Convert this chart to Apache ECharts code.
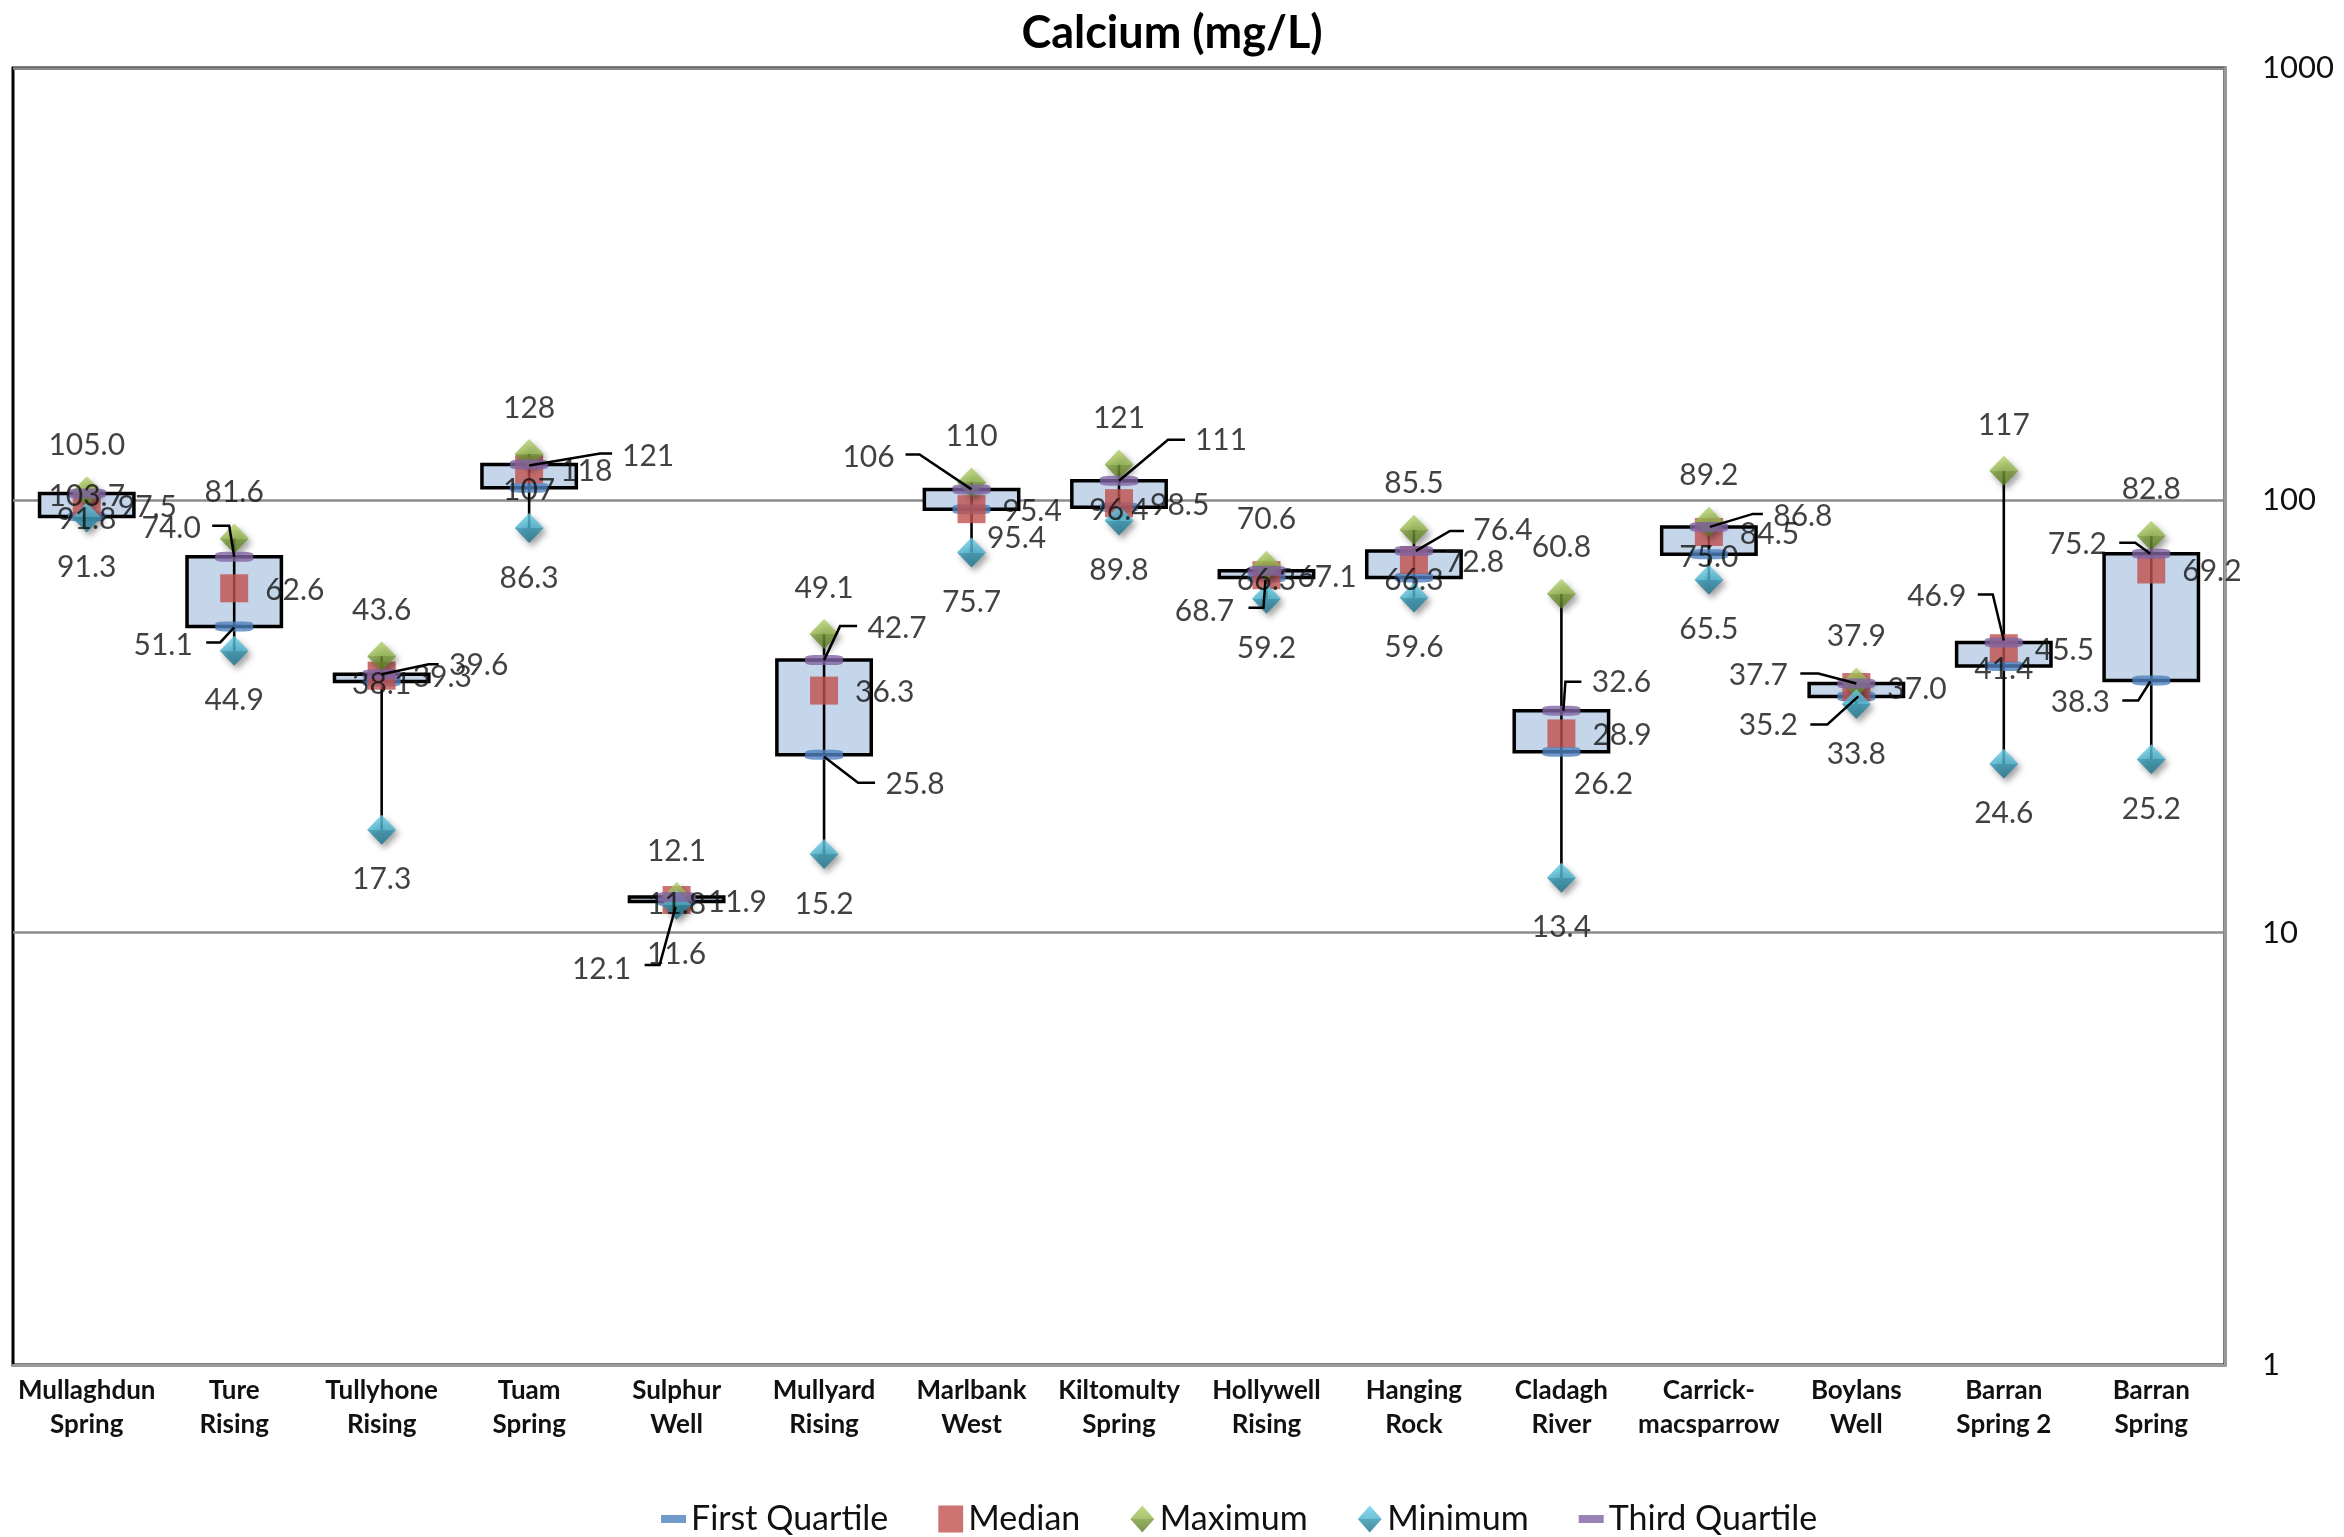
<!DOCTYPE html>
<html>
<head>
<meta charset="utf-8">
<title>Calcium (mg/L)</title>
<script src="https://cdn.jsdelivr.net/npm/echarts@6/dist/echarts.min.js"></script>
<style>
  html, body { margin: 0; padding: 0; background: #fff; }
  #chart { width: 2344px; height: 1537px; }
</style>
</head>
<body>
<div id="chart"></div>
<script>
// Sampling sites
const categories = [
  'Mullaghdun Spring', 'Ture Rising', 'Tullyhone Rising', 'Tuam Spring', 'Sulphur Well',
  'Mullyard Rising', 'Marlbank West', 'Kiltomulty Spring', 'Hollywell Rising', 'Hanging Rock',
  'Cladagh River', 'Carrick-macsparrow', 'Boylans Well', 'Barran Spring 2', 'Barran Spring'
];

// Calcium statistics, mg/L
const firstQuartile = [91.8, 51.1, 38.1, 107, 11.8, 25.8, 95.4, 96.4, 66.3, 66.3, 26.2, 75.0, 35.2, 41.4, 38.3];
const median        = [97.5, 62.6, 39.3, 118, 11.9, 36.3, 95.4, 98.5, 67.1, 72.8, 28.9, 84.5, 37.0, 45.5, 69.2];
const maximum       = [105.0, 81.6, 43.6, 128, 12.1, 49.1, 110, 121, 70.6, 85.5, 60.8, 89.2, 37.9, 117, 82.8];
const minimum       = [91.3, 44.9, 17.3, 86.3, 11.6, 15.2, 75.7, 89.8, 59.2, 59.6, 13.4, 65.5, 33.8, 24.6, 25.2];
const thirdQuartile = [103.7, 74.0, 39.6, 121, 12.1, 42.7, 106, 111, 68.7, 76.4, 32.6, 86.8, 37.7, 46.9, 75.2];

// Y axis tick labels (log scale)
const yTicks = [1, 10, 100, 1000];

// Sites whose labels keep one decimal place
const oneDecimalSites = ['Mullaghdun Spring'];

const seriesValues = { q1: firstQuartile, med: median, max: maximum, min: minimum, q3: thirdQuartile };

// Labels dragged away from their marker: [dx, dy] of the label centre
const labelMoves = {
  q3: { 1: [-63, -29], 2: [97, -9], 3: [119, -8], 4: [-75, 72], 5: [73, -32], 6: [-103, -32],
        7: [102, -40], 8: [-62, 41], 9: [89, -21], 10: [60, -28], 11: [94, -11], 12: [-98, -8],
        13: [-67, -46], 14: [-74, -10] },
  q1: { 1: [-71, 19], 5: [91, 30], 6: [45, 29], 10: [42, 33], 12: [-88, 29], 14: [-71, 22] }
};

// Leader lines for the dragged labels, as offsets from the marker
const leaders = [
  ['q3', 1, [[-22, -31], [-5, -31], [0, 0]]],
  ['q1', 1, [[-28, 16], [-14, 16], [0, 1]]],
  ['q3', 2, [[0, 0], [47, -10], [57, -10]]],
  ['q3', 3, [[0, 1], [71, -11], [83, -11]]],
  ['q3', 4, [[-32, 68], [-17, 68], [-1, 10]]],
  ['q3', 5, [[0, 0], [16, -34], [33, -34]]],
  ['q1', 5, [[0, 2], [34, 28], [51, 28]]],
  ['q3', 6, [[-66, -35], [-52, -35], [0, 0]]],
  ['q3', 7, [[0, 0], [49, -41], [66, -41]]],
  ['q3', 8, [[-18, 37], [-3, 37], [-1, 9]]],
  ['q3', 9, [[2, 0], [36, -20], [50, -20]]],
  ['q3', 10, [[2, 0], [4, -29], [20, -29]]],
  ['q3', 11, [[1, 0], [44, -13], [54, -13]]],
  ['q3', 12, [[-56, -10], [-38, -10], [0, 0]]],
  ['q1', 12, [[-46, 28], [-29, 28], [2, 0]]],
  ['q3', 13, [[-26, -48], [-11, -48], [0, -2]]],
  ['q3', 14, [[-32, -11], [-16, -11], [-1, 0]]],
  ['q1', 14, [[-29, 20], [-13, 20], [-1, 1]]]
];

const FONT = 'Lato, "Open Sans", "DejaVu Sans", sans-serif';
const TEXT = '#111';

function fmt(cat, v) {
  return oneDecimalSites.includes(categories[cat]) ? v.toFixed(1) : v.toPrecision(3);
}

function wrapName(name) {
  const h = name.indexOf('-');
  if (h >= 0) return name.slice(0, h + 1) + '\n' + name.slice(h + 1);
  const s = name.indexOf(' ');
  return s >= 0 ? name.slice(0, s) + '\n' + name.slice(s + 1) : name;
}

function facetGradient(light, light2, dark, darker) {
  return new echarts.graphic.LinearGradient(0, 0, 0, 1, [
    { offset: 0, color: light }, { offset: 0.5, color: light2 },
    { offset: 0.5, color: dark }, { offset: 1, color: darker }
  ]);
}

function statSeries(name, key, symbol, size, itemStyle, labelPos, z) {
  const values = seriesValues[key];
  const moves = labelMoves[key] || {};
  return {
    name: name,
    type: 'scatter',
    z: z,
    symbol: symbol,
    symbolSize: size,
    itemStyle: itemStyle,
    label: Object.assign({
      show: true,
      position: 'inside',
      fontFamily: FONT,
      fontSize: 30,
      color: TEXT,
      formatter: p => fmt(p.value[0], p.value[1])
    }, labelPos),
    data: values.map((v, i) => {
      const item = { value: [i, v] };
      if (moves[i]) item.label = { offset: moves[i], align: 'center' };
      return item;
    })
  };
}

const chart = echarts.init(document.getElementById('chart'), null, { renderer: 'canvas' });

const diamondShadow = { shadowBlur: 6, shadowColor: 'rgba(0,0,0,0.45)', shadowOffsetX: 3, shadowOffsetY: 4 };

chart.setOption({
  animation: false,
  backgroundColor: '#fff',
  title: {
    text: 'Calcium (mg/L)',
    left: 'center',
    top: 6,
    textStyle: { fontFamily: FONT, fontWeight: 'bold', fontSize: 45, color: '#000' }
  },
  legend: {
    left: 656,
    top: 1497,
    itemWidth: 25,
    itemHeight: 27,
    itemGap: 50,
    symbolKeepAspect: true,
    textStyle: { fontFamily: FONT, fontSize: 34, color: TEXT },
    data: [
      { name: 'First Quartile', icon: 'path://M0,0H25V8H0Z' },
      { name: 'Median', icon: 'path://M0,0H23V25H0Z' },
      { name: 'Maximum', icon: 'path://M12,0L24,13.5L12,27L0,13.5Z' },
      { name: 'Minimum', icon: 'path://M12,0L24,13.5L12,27L0,13.5Z' },
      { name: 'Third Quartile', icon: 'path://M0,0H25V8H0Z' }
    ]
  },
  grid: {
    left: 13, right: 119, top: 68, bottom: 172,
    show: true, borderColor: '#000', borderWidth: 3,
    outerBoundsMode: 'none'
  },
  xAxis: {
    type: 'category',
    data: categories,
    axisLine: { show: true, lineStyle: { color: '#9a9a9a', width: 3 } },
    axisTick: { show: false },
    splitLine: { show: false },
    axisLabel: {
      interval: 0,
      margin: 9,
      fontFamily: FONT,
      fontWeight: 'bold',
      fontSize: 26,
      lineHeight: 34,
      color: TEXT,
      formatter: wrapName
    }
  },
  yAxis: {
    type: 'log',
    logBase: 10,
    min: yTicks[0],
    max: yTicks[yTicks.length - 1],
    position: 'right',
    axisLine: { show: true, lineStyle: { color: '#9a9a9a', width: 3 } },
    axisTick: { show: false },
    splitLine: { show: true, lineStyle: { color: '#8c8c8c', width: 2.5 } },
    axisLabel: {
      margin: 37,
      fontFamily: FONT,
      fontSize: 31,
      color: TEXT,
      formatter: v => String(Math.round(v))
    }
  },
  series: [
    {
      name: 'box',
      type: 'custom',
      z: 1,
      silent: true,
      encode: { x: 0, y: [1, 2, 3, 4] },
      data: categories.map((c, i) => [i, firstQuartile[i], thirdQuartile[i], minimum[i], maximum[i]]),
      renderItem: (params, api) => {
        const cat = api.value(0);
        const pQ1 = api.coord([cat, api.value(1)]);
        const pQ3 = api.coord([cat, api.value(2)]);
        const pMin = api.coord([cat, api.value(3)]);
        const pMax = api.coord([cat, api.value(4)]);
        const band = api.coord([1, api.value(1)])[0] - api.coord([0, api.value(1)])[0];
        const w = band * 0.64;
        return {
          type: 'group',
          children: [
            {
              type: 'rect',
              shape: { x: pQ1[0] - w / 2, y: pQ3[1], width: w, height: pQ1[1] - pQ3[1] },
              style: { fill: '#c5d5ea', stroke: '#000', lineWidth: 3.5 }
            },
            {
              type: 'line',
              shape: { x1: pMax[0], y1: pMax[1], x2: pMin[0], y2: pMin[1] },
              style: { stroke: '#000', lineWidth: 2.6 }
            }
          ]
        };
      }
    },
    statSeries('First Quartile', 'q1', 'roundRect', [38, 10],
      { color: '#4f81bd' }, { offset: [0, 3] }, 2),
    statSeries('Median', 'med', 'rect', [28, 28],
      { color: '#c0504d' }, { offset: [31, 2], align: 'left' }, 2),
    statSeries('Maximum', 'max', 'diamond', [29, 30],
      Object.assign({ color: facetGradient('#b3d16b', '#93b54b', '#789a36', '#5c7b25') }, diamondShadow),
      { offset: [0, -46] }, 2),
    statSeries('Minimum', 'min', 'diamond', [29, 30],
      Object.assign({ color: facetGradient('#6fd0e6', '#48b2cf', '#2e94b0', '#1d7088') }, diamondShadow),
      { offset: [0, 50] }, 2),
    statSeries('Third Quartile', 'q3', 'roundRect', [38, 10],
      { color: '#8064a2' }, { offset: [0, 3] }, 2),
    {
      name: 'leader',
      type: 'custom',
      z: 4,
      silent: true,
      encode: { x: 0, y: 1 },
      data: leaders.map(([key, i]) => [i, seriesValues[key][i]]),
      renderItem: (params, api) => {
        const p = api.coord([api.value(0), api.value(1)]);
        const path = leaders[params.dataIndex][2];
        return {
          type: 'polyline',
          shape: { points: path.map(([dx, dy]) => [p[0] + dx, p[1] + dy]) },
          style: { stroke: '#000', lineWidth: 2.5, fill: null }
        };
      }
    }
  ]
});
</script>
</body>
</html>
